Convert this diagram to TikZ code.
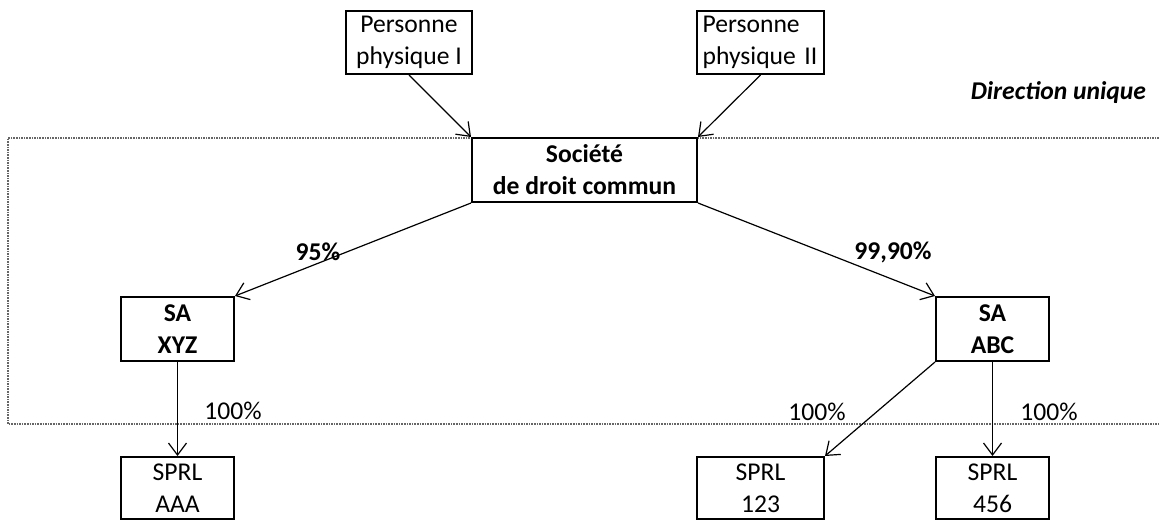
\documentclass[tikz,border=0pt]{standalone}
\usepackage{fontspec}
\setmainfont{Carlito}
\usetikzlibrary{arrows.meta}

\tikzset{
  entite/.style={draw, line width=1pt, fill=white, align=center, inner sep=0pt,
    minimum width=56.5pt, minimum height=32pt},
  lien/.style={-{Straight Barb[length=6pt,width=9pt]}, line width=0.6pt},
  taux/.style={inner sep=0pt},
}

\begin{document}
\begin{tikzpicture}[x=0.5pt, y={(0pt,-0.5pt)}, font=\fontsize{12.8pt}{16pt}\selectfont]
    \useasboundingbox (0,0) rectangle (1159,520);

    % Direction unique frame
    \draw[black!60, line width=1.4pt, dash pattern=on 0.8pt off 0.5pt]
        (1159,138) -- (8,138) -- (8,424) -- (1159,424);
    \node[anchor=east, font=\fontsize{12.8pt}{16pt}\selectfont\bfseries\itshape] (direction) at (1153,93) {Direction unique};

    % Shareholders
    \node[entite, minimum width=63pt, minimum height=31.5pt] (ppI) at (409,42.5) {Personne\\physique I};
    \node[entite, minimum width=63.5pt, minimum height=31.5pt, text width=57.9pt, align=left] (ppII) at (760.5,42.5) {Personne\\physique II};

    % Holding
    \node[entite, minimum width=112.5pt, font=\fontsize{12.8pt}{16pt}\selectfont\bfseries] (societe) at (584.5,170) {Société\\de droit commun};

    % Subsidiaries
    \node[entite, font=\fontsize{12.8pt}{16pt}\selectfont\bfseries] (saxyz) at (177.5,329) {SA\\XYZ};
    \node[entite, font=\fontsize{12.8pt}{16pt}\selectfont\bfseries] (saabc) at (992.5,329) {SA\\ABC};

    % Sub-subsidiaries
    \node[entite, minimum height=31pt] (sprlaaa) at (177.5,488) {SPRL\\AAA};
    \node[entite, minimum height=31pt, minimum width=63.5pt] (sprl123) at (760.5,488) {SPRL\\123};
    \node[entite, minimum height=31pt] (sprl456) at (992.5,488) {SPRL\\456};

    % Links
    \draw[lien] (ppI.south) -- (societe.north west);
    \draw[lien] (ppII.south) -- (societe.north east);
    \draw[lien] (societe.south west) -- (saxyz.north east);
    \draw[lien] (societe.south east) -- (saabc.north west);
    \draw[lien] (saxyz.south) -- (sprlaaa.north);
    \draw[lien] (saabc.south west) -- (sprl123.north east);
    \draw[lien] (saabc.south) -- (sprl456.north);

    % Shares
    \node[taux, font=\fontsize{12.8pt}{16pt}\selectfont\bfseries] (t95) at (318,252) {95\%};
    \node[taux, font=\fontsize{12.8pt}{16pt}\selectfont\bfseries] (t9990) at (893,252) {99,90\%};
    \node[taux] (taaa) at (233,411) {100\%};
    \node[taux] (t123) at (817,412) {100\%};
    \node[taux] (t456) at (1049,412) {100\%};
\end{tikzpicture}
\end{document}
